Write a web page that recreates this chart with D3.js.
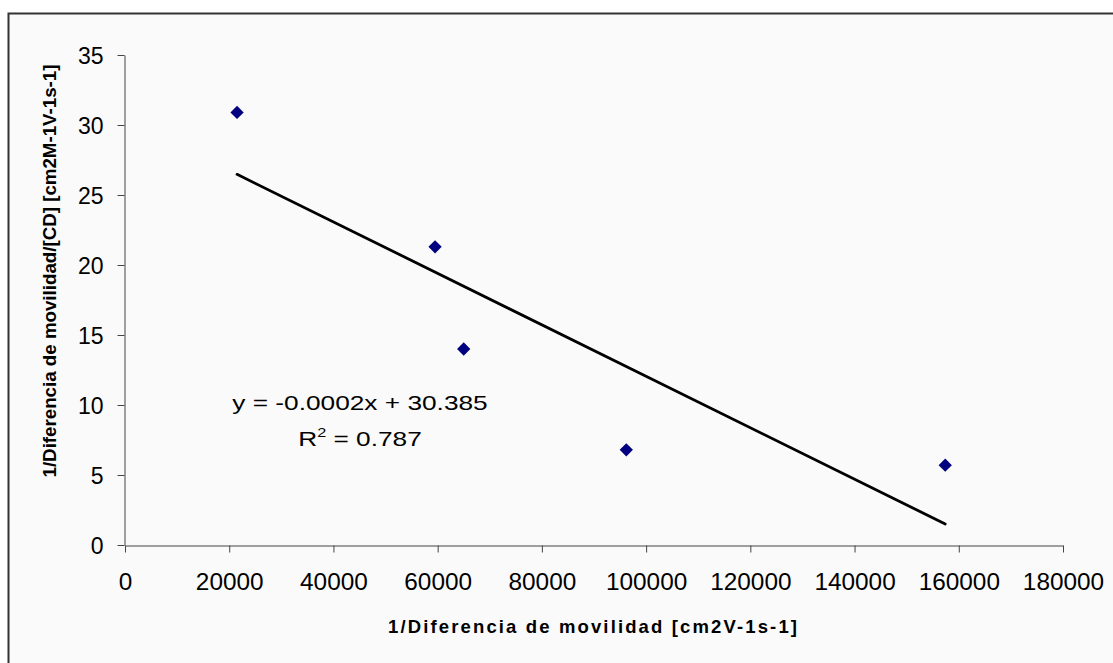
<!DOCTYPE html>
<html>
<head>
<meta charset="utf-8">
<script src="https://cdn.jsdelivr.net/npm/d3@7"></script>
<style>
  html, body { margin: 0; padding: 0; background: #ffffff; }
  svg { display: block; }
  text { font-family: "Liberation Sans", Arial, sans-serif; fill: #000; }
</style>
</head>
<body>
<div id="chart"></div>
<script>
// Mobility data: x = 1/Δμ, y = 1/Δμ/[CD]
const xValues = [21500, 59500, 65000, 96200, 157400];
const yValues = [30.9, 21.3, 14.0, 6.8, 5.7];

const xTicks = [0, 20000, 40000, 60000, 80000, 100000, 120000, 140000, 160000, 180000];
const yTicks = [0, 5, 10, 15, 20, 25, 30, 35];

const xTitle = "1/Diferencia de movilidad [cm2V-1s-1]";
const yTitle = "1/Diferencia de movilidad/[CD] [cm2M-1V-1s-1]";
const eqLine = "y = -0.0002x + 30.385";
const r2Value = "0.787";

const W = 1113, H = 663;
const svg = d3.select("#chart").append("svg").attr("width", W).attr("height", H);

// chart area (border runs off the right and bottom edges)
svg.append("rect")
  .attr("x", 8.5).attr("y", 13.5)
  .attr("width", W + 20).attr("height", H + 20)
  .attr("fill", "#fafafa")
  .attr("stroke", "#333").attr("stroke-width", 2);

const x = d3.scaleLinear().domain([0, 180000]).range([125, 1063]);
const y = d3.scaleLinear().domain([0, 35]).range([545, 55]);

// axes
const xAxis = svg.append("g").attr("transform", "translate(0,545.5)")
  .call(d3.axisBottom(x).tickValues(xTicks).tickSizeOuter(0).tickSizeInner(7).tickFormat(d3.format("d")));
const yAxis = svg.append("g").attr("transform", "translate(124.5,0)")
  .call(d3.axisLeft(y).tickValues(yTicks).tickSizeOuter(0).tickSizeInner(7).tickFormat(d3.format("d")));

[xAxis, yAxis].forEach(g => {
  g.select(".domain").attr("stroke", "#444").attr("stroke-width", 1);
  g.selectAll(".tick line").attr("stroke", "#444");
  g.selectAll(".tick text")
    .attr("font-family", "'Liberation Sans', Arial, sans-serif")
    .attr("font-size", 23).attr("fill", "#000");
});
xAxis.selectAll(".tick text").attr("dy", null).attr("y", 45)
  .attr("transform", "scale(1.06,1)")
  .attr("x", function(d) { return 0; });
// keep x labels centred under ticks while stretched
xAxis.selectAll(".tick text").each(function() {
  d3.select(this).attr("transform", "scale(1.06,1)");
});
yAxis.selectAll(".tick text").attr("dy", null).attr("x", -21).attr("y", 8)
  .attr("transform", null);

// least-squares trend line from the data
const n = xValues.length;
const mx = d3.mean(xValues), my = d3.mean(yValues);
let sxy = 0, sxx = 0;
for (let i = 0; i < n; i++) {
  sxy += (xValues[i] - mx) * (yValues[i] - my);
  sxx += (xValues[i] - mx) ** 2;
}
const slope = sxy / sxx, intercept = my - slope * mx;
const xr = d3.extent(xValues);
svg.append("line")
  .attr("x1", x(xr[0])).attr("y1", y(intercept + slope * xr[0]))
  .attr("x2", x(xr[1])).attr("y2", y(intercept + slope * xr[1]))
  .attr("stroke", "#000").attr("stroke-width", 2.8).attr("stroke-linecap", "round");

// markers
const pts = xValues.map((v, i) => [v, yValues[i]]);
svg.append("g").selectAll("path").data(pts).join("path")
  .attr("d", d3.symbol(d3.symbolSquare, 88))
  .attr("transform", d => `translate(${x(d[0])},${y(d[1])}) rotate(45)`)
  .attr("fill", "#000080");

// trendline equation
const eq = svg.append("g").attr("transform", "translate(360,0) scale(1.25,1)");
eq.append("text").attr("x", 0).attr("y", 410).attr("text-anchor", "middle")
  .attr("font-size", 21).text(eqLine);
const r2 = eq.append("text").attr("x", 0).attr("y", 446).attr("text-anchor", "middle")
  .attr("font-size", 21);
r2.append("tspan").text("R");
r2.append("tspan").attr("font-size", 13).attr("dy", -9).text("2");
r2.append("tspan").attr("dy", 9).text(" = " + r2Value);

// axis titles
svg.append("text")
  .attr("x", 592.5).attr("y", 633).attr("text-anchor", "middle")
  .attr("font-size", 18.5).attr("font-weight", "bold")
  .attr("textLength", 409).attr("lengthAdjust", "spacing")
  .text(xTitle);

svg.append("text")
  .attr("transform", "translate(56,271) rotate(-90)")
  .attr("text-anchor", "middle")
  .attr("font-size", 19).attr("font-weight", "bold")
  .attr("textLength", 413).attr("lengthAdjust", "spacingAndGlyphs")
  .text(yTitle);
</script>
</body>
</html>
